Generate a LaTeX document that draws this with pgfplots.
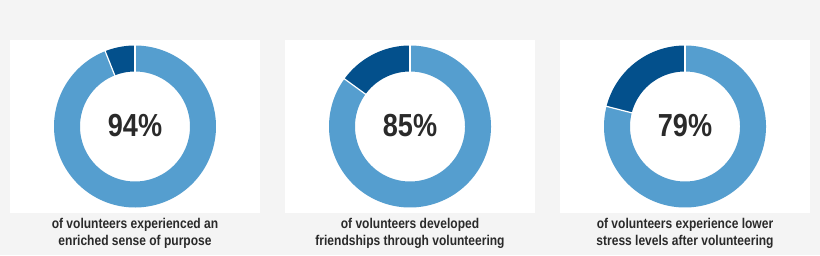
\documentclass[border=0pt]{standalone}
\usepackage{pgfplots}
\pgfplotsset{compat=1.18}
\usepackage{fontspec}
\setmainfont{Liberation Sans}[FakeStretch=0.85]
\definecolor{bgc}{HTML}{F4F4F4}
\definecolor{lightb}{HTML}{559ECF}
\definecolor{darkb}{HTML}{03508C}
\definecolor{txt}{HTML}{2A2A2A}
\pgfplotsset{
  donut/.style={
    anchor=south west, width=250bp, height=173bp, scale only axis,
    xmin=-125, xmax=125, ymin=-86.5, ymax=86.5,
    axis line style={draw=none}, ticks=none, clip=false,
    axis background/.style={fill=white},
  }
}
\newcommand{\donut}[1]{%
  \addplot[draw=lightb, line width=26bp, domain={90-3.6*#1}:90, samples=240, no marks] ({68*cos(x)},{68*sin(x)});
  \addplot[draw=darkb, line width=26bp, domain=90:{90+3.6*(100-#1)}, samples=60, no marks] ({68*cos(x)},{68*sin(x)});
  \addplot[draw=white, line width=1.2bp, domain=54:82, samples=2, no marks] ({x*cos(90)},{x*sin(90)});
  \addplot[draw=white, line width=1.2bp, domain=54:82, samples=2, no marks] ({x*cos(90+3.6*(100-#1))},{x*sin(90+3.6*(100-#1))});
  \node[font=\fontsize{32}{32}\selectfont\bfseries, text=txt] at (axis cs:0,1) {#1\%};
}
\begin{document}
\begin{tikzpicture}[x=1bp,y=1bp]
\fill[bgc] (0,0) rectangle (820,255);
\useasboundingbox (0,0) rectangle (820,255);
\begin{axis}[donut, at={(10bp,42bp)}]
\donut{94}
\end{axis}
\begin{axis}[donut, at={(285bp,42bp)}]
\donut{85}
\end{axis}
\begin{axis}[donut, at={(560bp,42bp)}]
\donut{79}
\end{axis}
\tikzset{captxt/.style={font=\fontsize{14.2}{17}\selectfont\bfseries, text=txt, align=center}}
\node[captxt] at (135,21.5) {of volunteers experienced an\\enriched sense of purpose};
\node[captxt] at (410,21.5) {of volunteers developed\\friendships through volunteering};
\node[captxt] at (685,21.5) {of volunteers experience lower\\stress levels after volunteering};
\end{tikzpicture}
\end{document}
